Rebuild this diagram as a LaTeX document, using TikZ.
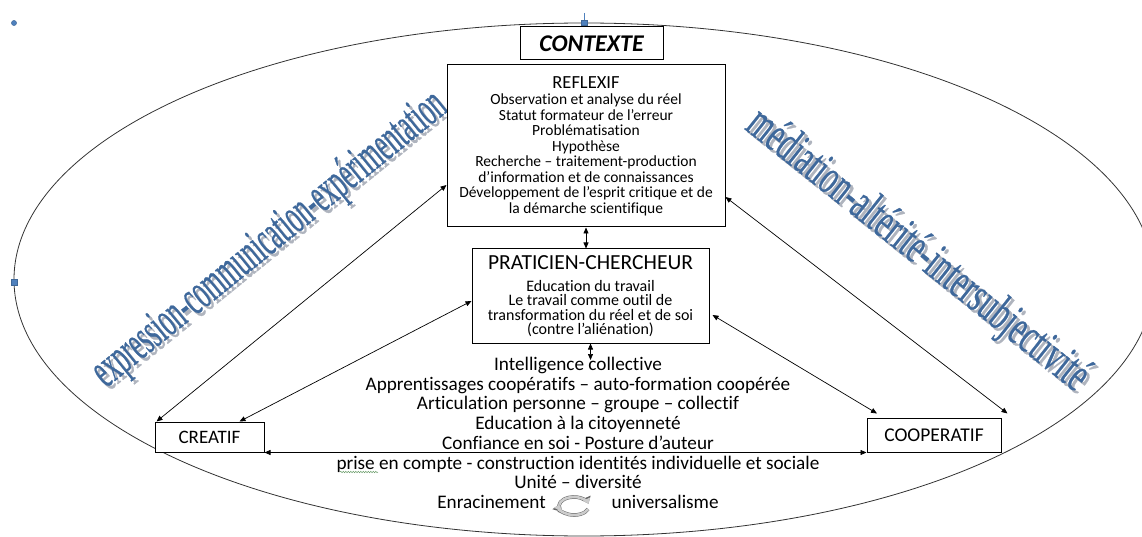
\documentclass[tikz,border=0pt]{standalone}
\usepackage{fontspec}
\usepackage{graphicx}
\setmainfont{Carlito}[Ligatures=NoCommon]
\newfontfamily\artfont{Liberation Serif}[FakeBold=0.6]
\usetikzlibrary{arrows.meta,decorations.pathmorphing}
\definecolor{artblue}{RGB}{62,104,155}
\definecolor{artshadow}{RGB}{175,180,190}
\definecolor{handleblue}{RGB}{79,129,189}
\definecolor{spellgreen}{RGB}{110,160,110}
\begin{document}
\lineskiplimit=-20pt\relax
\begin{tikzpicture}[x=1pt,y=-1pt,
  box/.style={draw=black, fill=white, line width=1pt, inner sep=0pt, align=center},
  conn/.style={line width=0.7pt, {Triangle[length=6pt,width=5pt]}-{Triangle[length=6pt,width=5pt]}},
  arttext/.style={inner sep=0pt, font=\artfont\fontsize{50}{50}\selectfont},
  handle/.style={fill=handleblue, draw=handleblue!80!black, line width=0.4pt},
  icon/.style={line width=2.6pt, draw=gray!40, -{Triangle[length=5pt,width=8pt]},
    preaction={draw=black!60, line width=3.6pt, -{Triangle[length=6.5pt,width=10pt]}}}
]
\useasboundingbox (0,0) rectangle (1142,537);
% context ellipse
\draw[line width=0.8pt, black!80] (584,279.5) ellipse [x radius=570, y radius=256.5];
% selection handles
\fill[handle] (14,23) circle [radius=2.6];
\draw[handleblue, line width=0.6pt] (584,13) -- (584,20);
\filldraw[handle] (581.2,20) rectangle (586.8,25.6);
\filldraw[handle] (11.2,279.2) rectangle (16.8,284.8);

% WordArt texts
\node[arttext, text=artshadow, rotate=39] (exprsh) at (273,243) {\scalebox{0.5}[1]{expression-communication-expérimentation}};
\node[arttext, text=artblue, rotate=39] (expr) at (270,240) {\scalebox{0.5}[1]{expression-communication-expérimentation}};
\node[arttext, text=artshadow, rotate=-38.5] (medsh) at (920,254) {\scalebox{0.61}[1]{médiation-altérité-intersubjectivité}};
\node[arttext, text=artblue, rotate=-38.5] (med) at (917,251) {\scalebox{0.61}[1]{médiation-altérité-intersubjectivité}};

% boxes
\node[box, minimum width=143pt, minimum height=33pt, font=\bfseries\itshape\fontsize{24}{24}\selectfont] (contexte) at (591.5,43.5) {CONTEXTE};
\node[box, minimum width=278pt, minimum height=162pt, font=\fontsize{15.5}{15.5}\selectfont] (reflexif) at (586,146)
 {{\fontsize{18.5}{15.5}\selectfont REFLEXIF}\\[1pt]
  Observation et analyse du réel\\
  Statut formateur de l’erreur\\
  Problématisation\\
  Hypothèse\\
  Recherche – traitement-production\\
  d’information et de connaissances\\
  Développement de l’esprit critique et de\\
  la démarche scientifique};
\node[box, minimum width=237pt, minimum height=94pt, font=\fontsize{16}{14.3}\selectfont] (praticien) at (590.5,296)
 {{\fontsize{21.5}{14.3}\selectfont PRATICIEN-CHERCHEUR}\\[8pt]
  Education du travail\\
  Le travail comme outil de\\
  transformation du réel et de soi\\
  (contre l’aliénation)};
\node[box, minimum width=109pt, minimum height=30pt, font=\fontsize{19}{19}\selectfont] (creatif) at (209.5,437) {CREATIF};
\node[box, minimum width=134pt, minimum height=34pt, font=\fontsize{19.5}{19.5}\selectfont] (cooperatif) at (934,435) {COOPERATIF};

% bottom text
\node[inner sep=0pt, align=center, anchor=north, font=\fontsize{19.2}{19.7}\selectfont] (bottom) at (578,357)
 {Intelligence collective\\
  Apprentissages coopératifs – auto-formation coopérée\\
  Articulation personne – groupe – collectif\\
  Education à la citoyenneté\\
  Confiance en soi - Posture d’auteur\\
  prise en compte - construction identités individuelle et sociale\\
  Unité – diversité\\
  Enracinement\hspace{66pt}universalisme};
\coordinate (ic) at (590.5,360);
\draw[spellgreen, line width=0.5pt, decorate, decoration={snake, amplitude=0.7pt, segment length=2.5pt}] (340,472) -- (378,472);

% cycle icon
\begin{scope}[shift={(574,506)}, yscale=-1]
  \draw[icon] (200:15 and 9) arc [start angle=200, end angle=15, x radius=15, y radius=9];
  \draw[icon] (-20:15 and 9) arc [start angle=-20, end angle=-190, x radius=15, y radius=9];
\end{scope}

% connectors
\draw[conn] ([yshift=-39pt]reflexif.west) -- ([xshift=2pt]creatif.north west);
\draw[conn] ([yshift=-5pt]praticien.west) -- ([xshift=30pt]creatif.north);
\draw[conn] ([yshift=-51pt]reflexif.east) -- ([xshift=6pt,yshift=4pt]cooperatif.north east);
\draw[conn] ([xshift=3pt,yshift=-19pt]praticien.east) -- ([xshift=-57pt,yshift=4pt]cooperatif.north);
\draw[conn] (creatif.south east) -- (cooperatif.south west);
\draw[conn] (reflexif.south) -- (reflexif.south |- praticien.north);
\draw[conn] (praticien.south) -- (ic);
\end{tikzpicture}
\end{document}
